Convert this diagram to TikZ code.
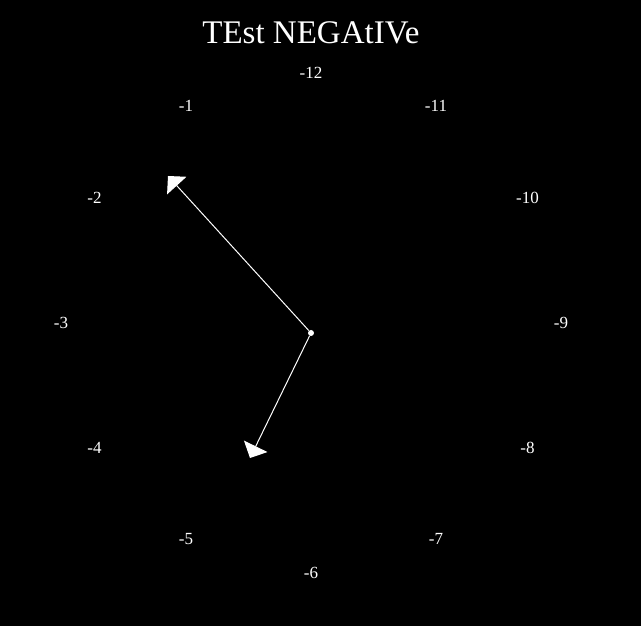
\documentclass[tikz,border=0pt]{standalone}
\usepackage{fontspec}
\setmainfont{Liberation Serif}
\usetikzlibrary{arrows.meta, calc}

\begin{document}
\begin{tikzpicture}[
    x=1pt, y=1pt,
    dialnum/.style={text=white, inner sep=0pt, font=\fontsize{17}{20}\selectfont},
    titlelbl/.style={text=white, inner sep=0pt, anchor=base, font=\fontsize{33}{40}\selectfont},
    hubdot/.style={circle, fill=white, minimum size=6pt, inner sep=0pt},
    hand/.style={draw=white, line width=1pt, -{Triangle[length=13pt, width=26pt]}},
]

% --- Background / frame ---
\fill[black] (0,0) rectangle (641,626);
\useasboundingbox (0,0) rectangle (641,626);

% --- Title ---
\node[titlelbl] (title) at (311, 582.5) {TEst NEGAtIVe};

% --- Dial numbers (counter-clockwise) ---
\coordinate (dial) at (311, 303.5);
\foreach \n in {1,...,12}
    \node[dialnum] (num\n) at ($(dial)+({90+30*\n}:250)$) {-\n};

% --- Hub and hands ---
\node[hubdot] (hub) at (311, 293) {};
\coordinate (minutetip) at (168, 450);
\coordinate (hourtip) at (250, 168);
\draw[hand] (hub) -- (minutetip);
\draw[hand] (hub) -- (hourtip);

\end{tikzpicture}
\end{document}
